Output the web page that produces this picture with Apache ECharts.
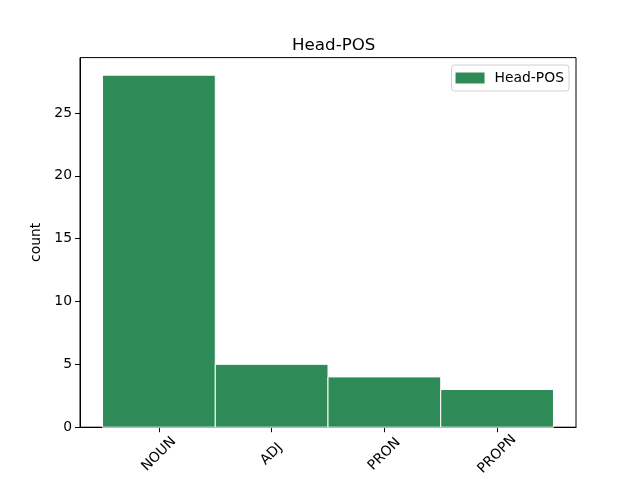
<!DOCTYPE html>
<html><head><meta charset="utf-8">
<script src="https://cdn.jsdelivr.net/npm/echarts@6/dist/echarts.min.js"></script>
<style>html,body{margin:0;padding:0;background:#fff}#c{width:640px;height:480px}</style>
</head><body><div id="c"></div>
<script>
const categories = ['NOUN', 'ADJ', 'PRON', 'PROPN'];
const counts = [28, 5, 4, 3];
const yTicks = [0, 5, 10, 15, 20, 25];
const seriesName = 'Head-POS';

const font = 'DejaVu Sans';
const chart = echarts.init(document.getElementById('c'), null, {renderer: 'canvas'});
chart.setOption({
  animation: false,
  backgroundColor: '#fff',
  title: {text: 'Head-POS', left: 287, top: 32,
    textStyle: {fontFamily: font, fontSize: 16.7, fontWeight: 'normal', color: '#000'}},
  legend: {
    data: [{name: seriesName, icon: 'rect'}],
    right: 71, top: 65, orient: 'vertical',
    itemWidth: 29, itemHeight: 11,
    padding: [6, 5, 6, 4],
    borderColor: '#d0d0d0', borderWidth: 1, borderRadius: 3,
    textStyle: {fontFamily: font, fontSize: 13.9, color: '#000', padding: [0, 0, 0, 5]}
  },
  grid: {left: 80, right: 64, top: 57.6, bottom: 52.8, show: true,
    borderColor: '#000', borderWidth: 1, backgroundColor: 'transparent'},
  xAxis: {
    type: 'value', min: -0.7, max: 3.7,
    splitLine: {show: false},
    axisLine: {show: true, onZero: false, lineStyle: {color: '#000', width: 1}},
    axisTick: {show: true, length: 5, lineStyle: {color: '#000'}, customValues: categories.map((c, i) => i)},
    axisLabel: {
      customValues: categories.map((c, i) => i),
      formatter: v => categories[Math.round(v)] || '',
      rotate: 45, align: 'center', verticalAlign: 'middle', margin: 27,
      fontFamily: font, fontSize: 13.9, color: '#000'
    }
  },
  yAxis: {
    type: 'value', min: 0, max: 29.4,
    name: 'count', nameLocation: 'middle', nameGap: 31, nameRotate: 90,
    nameTextStyle: {fontFamily: font, fontSize: 13.9, color: '#000'},
    splitLine: {show: false},
    axisLine: {show: true, onZero: false, lineStyle: {color: '#000', width: 1}},
    axisTick: {show: true, length: 5, lineStyle: {color: '#000'}, customValues: yTicks},
    axisLabel: {customValues: yTicks, margin: 8, fontFamily: font, fontSize: 13.9, color: '#000'}
  },
  series: [{
    name: seriesName,
    type: 'custom',
    itemStyle: {color: '#2e8b57'},
    encode: {x: 0, y: 1},
    data: counts.map((v, i) => [i, v]),
    renderItem: function (params, api) {
      const i = api.value(0), v = api.value(1);
      const p0 = api.coord([i - 0.5, v]);
      const p1 = api.coord([i + 0.5, 0]);
      return {
        type: 'rect',
        shape: {x: p0[0], y: p0[1], width: p1[0] - p0[0], height: p1[1] - p0[1]},
        style: {fill: '#2e8b57', stroke: '#ffffff', lineWidth: 1}
      };
    }
  }]
});
</script></body></html>
